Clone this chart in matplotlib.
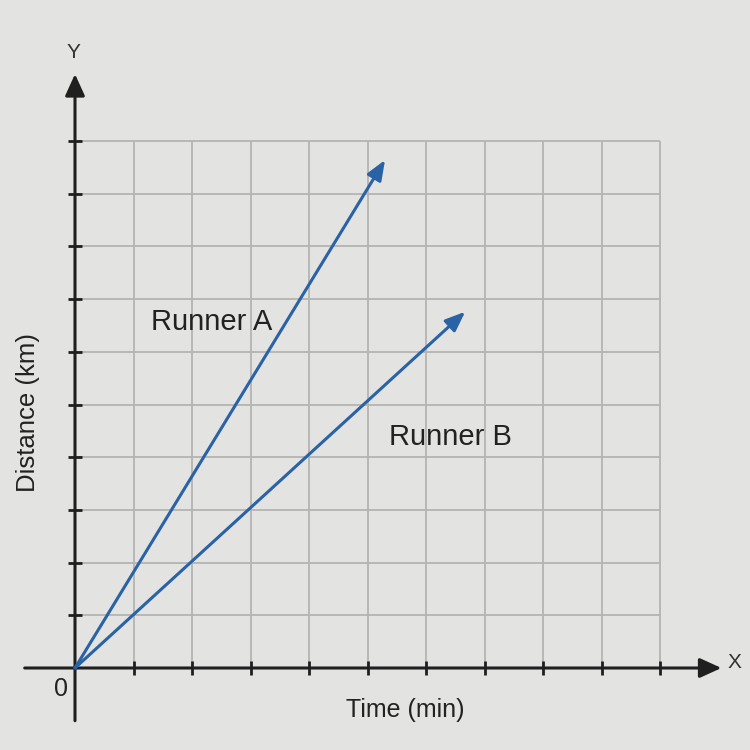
import matplotlib
matplotlib.use("Agg")
import matplotlib.pyplot as plt
import numpy as np

# ---- data (grid units) ----
grid_x = list(range(0, 11))
grid_y = list(range(0, 11))
tick_x = list(range(1, 11))
tick_y = list(range(1, 11))
runner_names = ["Runner A", "Runner B"]
runner_end_x = [5.30, 6.67]
runner_end_y = [9.64, 6.76]
label_x = [2.34, 6.41]
label_y = [6.57, 4.38]
x_label = "Time (min)"
y_label = "Distance (km)"

plt.rcParams['font.family'] = ['Liberation Sans', 'DejaVu Sans']

bg = '#e3e3e1'
grid_c = '#b4b4b2'
axis_c = '#1f1f1f'
line_c = '#2a62a6'

fig = plt.figure(figsize=(7.5, 7.5), dpi=100, facecolor=bg)
ax = fig.add_axes([0, 0, 1, 1])
ax.set_facecolor(bg)
ax.axis('off')

ux, uy = 58.5, 52.7
ox, oy = 75, 668
ax.set_xlim(-ox / ux, (750 - ox) / ux)
ax.set_ylim(-(750 - oy) / uy, oy / uy)

# grid
ax.vlines(grid_x[1:], 0, grid_y[-1], colors=grid_c, lw=1.3, zorder=1)
ax.hlines(grid_y[1:], 0, grid_x[-1], colors=grid_c, lw=1.3, zorder=1)

# axes with arrows
ax.annotate('', xy=(11.05, 0), xytext=(-0.86, 0),
            arrowprops=dict(arrowstyle='-|>,head_length=0.55,head_width=0.25',
                            color=axis_c, lw=2.2,
                            mutation_scale=24, shrinkA=0, shrinkB=0), zorder=3)
ax.annotate('', xy=(0, 11.27), xytext=(0, -1.0),
            arrowprops=dict(arrowstyle='-|>,head_length=0.55,head_width=0.25',
                            color=axis_c, lw=2.2,
                            mutation_scale=24, shrinkA=0, shrinkB=0), zorder=3)

# ticks
tlx = 7 / ux
tly = 7 / uy
ax.vlines(tick_x, -tly, tly, colors=axis_c, lw=2.0, zorder=3)
ax.hlines(tick_y, -tlx, tlx, colors=axis_c, lw=2.0, zorder=3)

# runners
for ex, ey in zip(runner_end_x, runner_end_y):
    ax.annotate('', xy=(ex, ey), xytext=(0, 0),
                arrowprops=dict(arrowstyle='-|>,head_length=0.55,head_width=0.22',
                                color=line_c, lw=2.2,
                                mutation_scale=22, shrinkA=0, shrinkB=0), zorder=4)
for name, lx, ly in zip(runner_names, label_x, label_y):
    ax.text(lx, ly, name, fontsize=21, color='#222222', ha='center', va='center', zorder=5)

# labels
ax.text((405 - ox) / ux, (oy - 710) / uy, x_label, fontsize=18, color='#222222',
        ha='center', va='center')
ax.text((28 - ox) / ux, (oy - 413) / uy, y_label, fontsize=18.5, color='#222222',
        ha='center', va='center', rotation=90)
ax.text((61 - ox) / ux, (oy - 689) / uy, '0', fontsize=18, color='#222222',
        ha='center', va='center')
ax.text((734 - ox) / ux, (oy - 663) / uy, 'X', fontsize=15, color='#333333',
        ha='center', va='center')
ax.text((73 - ox) / ux, (oy - 53) / uy, 'Y', fontsize=15, color='#333333',
        ha='center', va='center')

fig.savefig('out.png', dpi=100, facecolor=bg)
